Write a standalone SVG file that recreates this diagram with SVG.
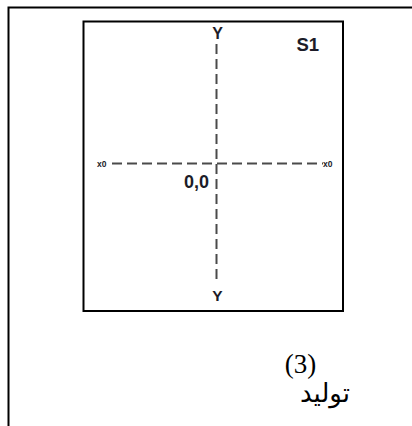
<svg xmlns="http://www.w3.org/2000/svg" width="412" height="426" viewBox="0 0 412 426">
<style>
.frame{fill:none;stroke:#000;stroke-width:2}
.axis{stroke:#4a4a4a;stroke-width:2;stroke-dasharray:10 5;fill:none}
.lbl{font-family:"Liberation Sans",Arial,sans-serif;font-weight:bold;fill:#1c1c28}
.ser{font-family:"Liberation Serif","DejaVu Serif","DejaVu Sans",serif;fill:#000}
</style>
<rect width="412" height="426" fill="#fff"/>
<g id="outer-frame">
<path class="frame" d="M8.5,426 V7.5 H412"/>
</g>
<g id="s1-box">
<rect class="frame" x="83.5" y="21.5" width="259.5" height="289.5"/>
<text class="lbl" x="296.5" y="51" font-size="18.5">S1</text>
</g>
<g id="connectors">
<line class="axis" x1="216.5" y1="44" x2="216.5" y2="284"/>
<line class="axis" x1="112" y1="163.5" x2="323" y2="163.5" stroke-dasharray="14 4 10 5 10 5 10 5 10 5 10 5 10 5 10 5 10 5 10 5 10 5 10 5 10 5 10 5 10 5 14"/>
</g>
<g id="y-top"><text class="lbl" x="217.5" y="38.5" font-size="16" text-anchor="middle">Y</text></g>
<g id="y-bottom"><text class="lbl" x="217.5" y="300.5" font-size="15.5" text-anchor="middle">Y</text></g>
<g id="x0-left"><text class="lbl" x="97" y="167" font-size="8.5" fill="#3a4a6a">x0</text></g>
<g id="x0-right"><text class="lbl" x="323" y="167" font-size="8.5" fill="#3a4a6a">x0</text></g>
<g id="origin"><text class="lbl" x="184" y="187.5" font-size="18">0,0</text></g>
<g id="caption">
<text class="ser" x="300.5" y="373" font-size="27" text-anchor="middle">(3)</text>
<text class="ser" x="350" y="402" font-size="26" text-anchor="end">توليد</text>
</g>
</svg>
